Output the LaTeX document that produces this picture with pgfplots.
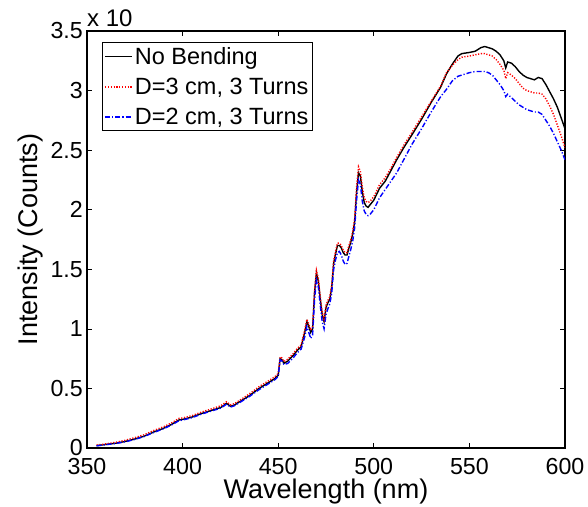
\documentclass[border=0pt]{standalone}
\usepackage{pgfplots}
\pgfplotsset{compat=1.18}
\usepackage{pgfplotstable}
\usepackage{fontspec}
\setmainfont{Liberation Sans}

\pgfplotstableread{
x y
355 0.02
360 0.03
365 0.04
370 0.055
375 0.075
380 0.10
385 0.135
390 0.165
395 0.205
398 0.235
400 0.24
405 0.26
410 0.29
415 0.315
420 0.34
423 0.375
425 0.35
427 0.36
430 0.39
435 0.44
440 0.50
445 0.55
448 0.58
450 0.61
451 0.75
452 0.74
453 0.71
455 0.73
458 0.78
460 0.82
462 0.85
464 0.98
465 1.06
466 1.02
467 0.97
468 1.00
469 1.30
470 1.47
471 1.40
472 1.25
473 1.12
474 1.06
475 1.18
476 1.22
477 1.25
478 1.35
479 1.55
480 1.63
481 1.70
482 1.70
483 1.68
484 1.64
485 1.62
486 1.62
487 1.68
488 1.73
489 1.80
490 1.90
491 2.15
492 2.31
493 2.28
494 2.15
495 2.06
496 2.03
497 2.02
498 2.04
500 2.08
503 2.18
506 2.24
509 2.33
512 2.42
516 2.53
520 2.63
525 2.76
530 2.90
535 3.03
538 3.14
541 3.22
544 3.29
546 3.31
550 3.32
553 3.33
556 3.36
558 3.37
560 3.36
562 3.35
564 3.33
566 3.30
568 3.25
569 3.19
570 3.24
572 3.23
574 3.20
576 3.16
578 3.13
580 3.11
582 3.10
584 3.09
586 3.11
588 3.10
590 3.05
592 2.99
594 2.93
596 2.86
598 2.77
600 2.68
}\nobend

\pgfplotstableread{
x y
355 0.025
360 0.035
365 0.048
370 0.065
375 0.087
380 0.112
385 0.148
390 0.178
395 0.218
398 0.248
400 0.252
405 0.272
410 0.302
415 0.328
420 0.355
423 0.388
425 0.362
427 0.372
430 0.402
435 0.455
440 0.515
445 0.565
448 0.595
450 0.625
451 0.765
452 0.755
453 0.725
455 0.745
458 0.795
460 0.835
462 0.865
464 1.00
465 1.08
466 1.04
467 0.99
468 1.02
469 1.32
470 1.49
471 1.42
472 1.27
473 1.14
474 1.08
475 1.20
476 1.24
477 1.27
478 1.37
479 1.57
480 1.65
481 1.72
482 1.72
483 1.70
484 1.66
485 1.64
486 1.64
487 1.70
488 1.75
489 1.82
490 1.93
491 2.19
492 2.36
493 2.32
494 2.19
495 2.10
496 2.07
497 2.06
498 2.07
500 2.11
503 2.21
506 2.27
509 2.35
512 2.44
516 2.55
520 2.65
525 2.78
530 2.91
535 3.04
538 3.15
541 3.21
544 3.26
546 3.28
550 3.29
553 3.30
556 3.31
558 3.31
560 3.30
562 3.29
564 3.26
566 3.22
568 3.17
569 3.10
570 3.15
572 3.13
574 3.10
576 3.06
578 3.02
580 3.00
582 2.99
584 2.98
586 2.98
588 2.97
590 2.93
592 2.87
594 2.80
596 2.71
598 2.62
600 2.52
}\dthree

\pgfplotstableread{
x y
355 0.018
360 0.028
365 0.038
370 0.052
375 0.072
380 0.097
385 0.131
390 0.161
395 0.200
398 0.228
400 0.235
405 0.255
410 0.285
415 0.310
420 0.335
423 0.368
425 0.343
427 0.354
430 0.383
435 0.433
440 0.490
445 0.540
448 0.570
450 0.600
451 0.74
452 0.73
453 0.70
455 0.71
458 0.76
460 0.80
462 0.83
464 0.94
465 1.02
466 0.97
467 0.92
468 0.95
469 1.24
470 1.41
471 1.35
472 1.20
473 1.06
474 1.00
475 1.12
476 1.17
477 1.21
478 1.30
479 1.50
480 1.58
481 1.64
482 1.65
483 1.62
484 1.57
485 1.54
486 1.55
487 1.61
488 1.67
489 1.74
490 1.85
491 2.08
492 2.25
493 2.21
494 2.07
495 1.99
496 1.96
497 1.95
498 1.96
500 2.00
503 2.10
506 2.17
509 2.24
512 2.31
516 2.43
520 2.55
525 2.68
530 2.82
535 2.95
538 3.01
541 3.08
544 3.12
546 3.13
550 3.15
553 3.16
556 3.16
558 3.16
560 3.15
562 3.13
564 3.09
566 3.05
568 3.00
569 2.95
570 2.97
572 2.94
574 2.91
576 2.88
578 2.86
580 2.84
582 2.83
584 2.82
586 2.82
588 2.80
590 2.75
592 2.70
594 2.64
596 2.57
598 2.50
600 2.42
}\dtwo

\begin{document}
\begin{tikzpicture}
\begin{axis}[
  name=ax,
  at={(87pt,58pt)}, anchor=south west,
  width=478pt, height=417pt, scale only axis,
  xmin=350, xmax=600, ymin=0, ymax=3.5,
  xtick={350,400,450,500,550,600},
  ytick={0,0.5,1,1.5,2,2.5,3,3.5},
  yticklabels={0,0.5,1,1.5,2,2.5,3,3.5},
  xticklabels={350,400,450,500,550,600},
  tick align=inside,
  major tick length=5pt,
  axis line style={line width=1.3pt},
  tick style={line width=0.7pt, black},
  ticklabel style={font=\fontsize{23.2}{27}\selectfont},
  xticklabel style={inner sep=0pt, anchor=north, yshift=-10pt},
  yticklabel style={inner sep=0pt, anchor=east, xshift=-4pt},
  xlabel={Wavelength (nm)},
  ylabel={Intensity (Counts)},
  label style={font=\fontsize{27}{31}\selectfont},
  xlabel style={at={(axis description cs:0.5,-0.12)}, anchor=base, inner sep=0pt},
  ylabel style={at={(axis description cs:-0.104,0.5)}, anchor=base, inner sep=0pt},
  legend style={at={(axis description cs:0.0314,0.9736)}, anchor=north west,
    draw=black, line width=1pt, font=\fontsize{23.5}{27}\selectfont,
    inner xsep=2pt, inner ysep=3pt, row sep=8pt, cells={anchor=west}},
  legend image code/.code={\draw[#1] (0pt,0pt) -- (27pt,0pt);},
  legend cell align=left,
  clip=true,
]
\addplot[black, line width=1.4pt] table {\nobend};
\addlegendentry{No Bending}
\addplot[red, line width=1.4pt, dash pattern=on 1.2pt off 1.6pt] table {\dthree};
\addlegendentry{D=3 cm, 3 Turns}
\addplot[blue, line width=1.4pt, dash pattern=on 5pt off 2pt on 1.2pt off 2pt] table {\dtwo};
\addlegendentry{D=2 cm, 3 Turns}
\end{axis}
\node[anchor=base west, inner sep=0pt, font=\fontsize{24}{28}\selectfont] at ([yshift=4pt]ax.north west) {x 10};
\pgfresetboundingbox
\path (0pt,0pt) rectangle (588pt,506pt);
\end{tikzpicture}
\end{document}
